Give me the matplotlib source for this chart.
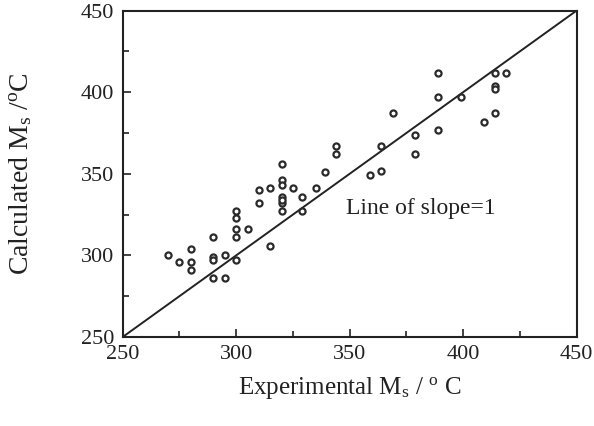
import matplotlib
matplotlib.use('Agg')
import matplotlib.pyplot as plt
from matplotlib.ticker import MultipleLocator

plt.rcParams['font.family'] = 'Liberation Serif'
plt.rcParams['mathtext.fontset'] = 'custom'
plt.rcParams['mathtext.rm'] = 'Liberation Serif'
plt.rcParams['mathtext.it'] = 'Liberation Serif:italic'

# experimental vs calculated Ms (deg C)
exp_ms = [270, 275, 280, 280, 280, 290, 290, 290, 290, 295, 295,
          300, 300, 300, 300, 300, 305, 310, 310, 315, 315,
          320, 320, 320, 320, 320, 320, 320, 325, 329, 329, 335, 339,
          344, 344, 359, 364, 364, 369, 379, 379,
          389, 389, 389, 399, 409, 414, 414, 414, 414, 419]
calc_ms = [300, 296, 304, 296, 291, 311, 299, 297, 286, 300, 286,
           327, 323, 316, 311, 297, 316, 340, 332, 341, 306,
           356, 346, 343, 336, 332, 327, 334, 341, 336, 327, 341, 351,
           367, 362, 349, 352, 367, 387, 374, 362,
           412, 397, 377, 397, 382, 412, 404, 402, 387, 412]
line_x = [250, 450]

fig = plt.figure(figsize=(5.94, 4.26), dpi=100)
ax = fig.add_axes([0.2066, 0.209, 0.764, 0.766])

ax.plot(line_x, line_x, color='#222222', linewidth=1.4)
ax.plot(exp_ms, calc_ms, linestyle='none', marker='o', markersize=4.4,
        markerfacecolor='white', markeredgecolor='#2a2a2a', markeredgewidth=1.6)

ax.text(348.5, 328.5, 'Line of slope=1', fontsize=17, color='#222222', va='center')

ax.set_xlim(250, 450)
ax.set_ylim(250, 450)
ax.xaxis.set_major_locator(MultipleLocator(50))
ax.yaxis.set_major_locator(MultipleLocator(50))
ax.xaxis.set_minor_locator(MultipleLocator(25))
ax.yaxis.set_minor_locator(MultipleLocator(25))
ax.tick_params(which='both', direction='in', top=False, right=False,
               labelsize=16, colors='#222222', width=1.2)
ax.tick_params(which='major', length=6, pad=6)
ax.tick_params(which='minor', length=4)
for s in ax.spines.values():
    s.set_linewidth(1.5)
    s.set_color('#222222')

ax.set_xlabel(r'Experimental M$_\mathrm{s}$ / $^\mathrm{o}$ C', fontsize=18,
              color='#222222', labelpad=8)
ax.set_ylabel(r'Calculated M$_\mathrm{s}$ /$^\mathrm{o}$C', fontsize=20,
              color='#222222', labelpad=34)

fig.savefig('out.png', dpi=100)
